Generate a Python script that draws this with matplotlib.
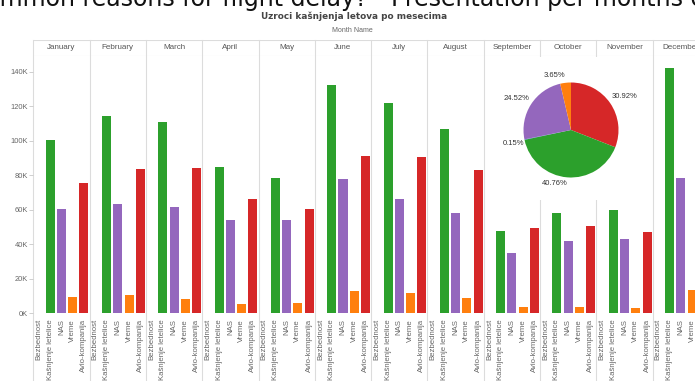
import matplotlib
matplotlib.use("Agg")
import matplotlib.pyplot as plt
from matplotlib.transforms import blended_transform_factory
import numpy as np

plt.rcParams['font.family'] = ['Liberation Sans', 'DejaVu Sans']

# ---- data -------------------------------------------------------------
months = ["January", "February", "March", "April", "May", "June", "July",
          "August", "September", "October", "November", "December"]
causes = ["Bezbednost", "Kašnjenje letelice", "NAS", "Vreme", "Avio-kompanija"]

bezbednost = [500, 500, 500, 500, 400, 500, 500, 400, 400, 400, 100, 500]
kasnjenje_letelice = [100500, 114600, 111100, 85100, 78500, 132400, 122000,
                      106700, 47600, 58000, 59800, 142400]
nas = [60400, 63600, 61700, 54200, 54200, 77700, 66100, 58100, 35000, 42200,
       43000, 78500]
vreme = [9400, 10900, 8200, 5500, 6100, 13000, 11700, 9000, 3600, 3600, 3200,
         13600]
avio_kompanija = [75600, 83500, 84300, 66500, 60400, 91200, 90500, 83000,
                  49400, 50500, 47200, 97000]

y_ticks = [0, 20000, 40000, 60000, 80000, 100000, 120000, 140000]

# share of all delays per cause (pie, clockwise from 12 o'clock)
pie_causes = ["Avio-kompanija", "Kašnjenje letelice", "Bezbednost", "NAS", "Vreme"]
pie_shares = [30.92, 40.76, 0.15, 24.52, 3.65]

# ---- styling ----------------------------------------------------------
colors = {"Bezbednost": "#1f77b4", "Kašnjenje letelice": "#2ca02c",
          "NAS": "#9467bd", "Vreme": "#ff7f0e", "Avio-kompanija": "#d62728"}
grid_col = "#dcdcdc"
text_col = "#666666"

W, H = 695, 381
fig = plt.figure(figsize=(W / 100, H / 100), dpi=100)


def fx(px):
    return px / W


def fy(py):
    return 1 - py / H


x_left, x_right = 33.3, 709.0
pane_top, pane_bottom = 55.5, 316.0
header_top = 39.5

ax = fig.add_axes([fx(x_left), fy(pane_bottom), (x_right - x_left) / W,
                   (pane_bottom - pane_top) / H])

series = [bezbednost, kasnjenje_letelice, nas, vreme, avio_kompanija]
n = len(causes)
for i, (name, vals) in enumerate(zip(causes, series)):
    xs = np.arange(len(months)) * n + i
    ax.bar(xs, vals, width=0.8, color=colors[name], linewidth=0, zorder=3)

ax.set_xlim(-0.5, len(months) * n - 0.5)
ax.set_ylim(-1450, 149500)
ax.set_yticks(y_ticks)
ax.set_yticklabels([f"{v // 1000}K" for v in y_ticks])
ax.tick_params(axis='y', length=3, width=0.6, color="#c8c8c8",
               labelcolor=text_col, labelsize=5.4, pad=1)
ax.set_xticks(np.arange(len(months) * n))
ax.set_xticklabels(causes * len(months), rotation=90, va='top', ha='center')
ax.tick_params(axis='x', length=0, labelcolor=text_col, labelsize=5.6, pad=2)
for s in ax.spines.values():
    s.set_visible(False)

# pane separators running from the header down through the labels
tr = blended_transform_factory(ax.transData, fig.transFigure)
for k in range(len(months) + 1):
    xb = k * n - 0.5
    ax.plot([xb, xb], [0, fy(header_top)], transform=tr, clip_on=False,
            color=grid_col, lw=0.8, zorder=1)

# month header row
hax = fig.add_axes([fx(x_left), fy(pane_top), (x_right - x_left) / W,
                    (pane_top - header_top) / H])
hax.set_xlim(ax.get_xlim())
hax.set_ylim(0, 1)
hax.axis('off')
hax.axhline(1, color=grid_col, lw=0.8)
hax.axhline(0, color=grid_col, lw=0.8)
for k, m in enumerate(months):
    hax.text(k * n + (n - 1) / 2, 0.47, m, ha='center', va='center',
             fontsize=5.8, color="#555555")

# titles
title = fig.text(0, fy(6),
                 "What are the most common reasons for flight delay? - "
                 "Presentation per months of the year",
                 fontsize=17, va='baseline', ha='left', color="#111111",
                 family='DejaVu Sans')
renderer = fig.canvas.get_renderer()
prefix = fig.text(0, 0, "What are the most co", fontsize=17,
                  family='DejaVu Sans')
shift = prefix.get_window_extent(renderer).width
prefix.remove()
title.set_x(-shift / W)

fig.text(fx(354.4), fy(16.5), "Uzroci kašnjenja letova po mesecima",
         ha='center', va='center', fontsize=6.4, weight='bold',
         color="#444444", family='DejaVu Sans')
fig.text(fx(352), fy(31), "Month Name", ha='center', va='center',
         fontsize=5, color=text_col)

# white panel behind the pie
bax = fig.add_axes([fx(486), fy(200), fx(651 - 486), (200 - 56.5) / H])
bax.set_facecolor("white")
bax.set_xticks([])
bax.set_yticks([])
for s in bax.spines.values():
    s.set_visible(False)

# pie of overall shares
cx, cy, r = 571, 130, 47.5
pax = fig.add_axes([fx(cx - r), fy(cy + r), 2 * r / W, 2 * r / H])
pax.pie(pie_shares, colors=[colors[c] for c in pie_causes], startangle=90,
        counterclock=False, radius=1, wedgeprops=dict(linewidth=0))
pax.set_xlim(-1, 1)
pax.set_ylim(-1, 1)
label_pos = [(1.12, 0.70), (-0.34, -1.12), (-1.22, -0.29), (-1.14, 0.66),
             (-0.34, 1.14)]
for share, (lx, ly) in zip(pie_shares, label_pos):
    pax.text(lx, ly, f"{share:.2f}%", ha='center', va='center', fontsize=5.5,
             color="#333333", clip_on=False)

fig.savefig("out.png", dpi=100)
